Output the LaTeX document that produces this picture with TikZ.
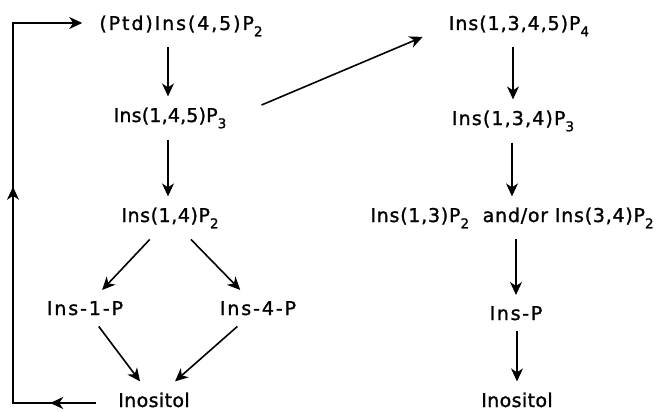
\documentclass[tikz,border=0pt]{standalone}
\usepackage{fontspec}
\setmainfont{DejaVu Sans}[FakeBold=1.3]
\usetikzlibrary{arrows.meta,decorations.markings}
\newcommand\lowsub[1]{\raisebox{-0.33em}{\fontsize{13.5}{13.5}\selectfont #1}}
\newcommand\lsp[1]{\addfontfeatures{LetterSpace=#1}}
\tikzset{headtip/.tip={Stealth[length=13pt,width=12pt,inset=4pt,line width=1.2pt]}}
\begin{document}
\begin{tikzpicture}[x=1pt,y=-1pt,
  lbl/.style={font=\fontsize{19}{22}\selectfont, inner xsep=10pt, inner ysep=11pt, anchor=base},
  arr/.style={line width=1.6pt, -headtip},
  ln/.style={line width=1.6pt}]
\useasboundingbox (0,0) rectangle (656,412);
% left column
\node[lbl] (ptd) at (181,30) {\lsp{10}(Ptd)Ins(4,5)P\lowsub{2}};
\node[lbl] (p3)  at (170,122) {\lsp{1}Ins(1,4,5)P\lowsub{3}};
\node[lbl] (p2)  at (170,222) {\lsp{3}Ins(1,4)P\lowsub{2}};
\node[lbl] (i1p) at (85,315) {\lsp{10}Ins-1-P};
\node[lbl] (i4p) at (258,315) {\lsp{10}Ins-4-P};
\node[lbl] (ino) at (154,407) {\lsp{2}Inositol};
% right column
\node[lbl] (p4)  at (519,30) {\lsp{5}Ins(1,3,4,5)P\lowsub{4}};
\node[lbl] (r3)  at (513,125) {\lsp{6}Ins(1,3,4)P\lowsub{3}};
\node[lbl] (r2)  at (512,222) {\lsp{4}Ins(1,3)P\lowsub{2}\ \ and/or Ins(3,4)P\lowsub{2}};
\node[lbl] (rp)  at (516,320) {\lsp{9}Ins-P};
\node[lbl] (rino) at (517,407) {\lsp{2}Inositol};
% connectors left
\draw[arr] ([xshift=-2pt]p3 |- ptd.south) -- ([xshift=-2pt]p3.north);
\draw[arr] ([xshift=-2pt]p2 |- p3.south) -- ([xshift=-2pt]p2.north);
\draw[arr] (p2) -- (i1p);
\draw[arr] (p2) -- (i4p);
\draw[arr] (i1p) -- (ino);
\draw[arr] (i4p) -- (ino);
% connectors right
\draw[arr] (r3 |- p4.south) -- (r3.north);
\draw[arr] (r2 |- r3.south) -- (r2.north);
\draw[arr] (rp |- r2.south) -- (rp.north);
\draw[arr] (rino |- rp.south) -- (rino.north);
% cross arrow
\draw[arr] ([xshift=25pt,yshift=13pt]p3.east) -- ([xshift=-16pt,yshift=-11pt]p4.west);
% recycling loop
\coordinate (lstart) at ([xshift=-12pt,yshift=4pt]ino.base west);
\coordinate (lb) at (13,403);
\coordinate (lt) at (13,23);
\draw[arr, shorten >=7pt,
  postaction={decorate},
  decoration={markings,
    mark=at position 0.085 with {\arrow{headtip}},
    mark=at position 0.555 with {\arrow{headtip}}}]
  (lstart) -- (lb) -- (lt) -- (lt -| ptd.west);
\end{tikzpicture}
\end{document}
